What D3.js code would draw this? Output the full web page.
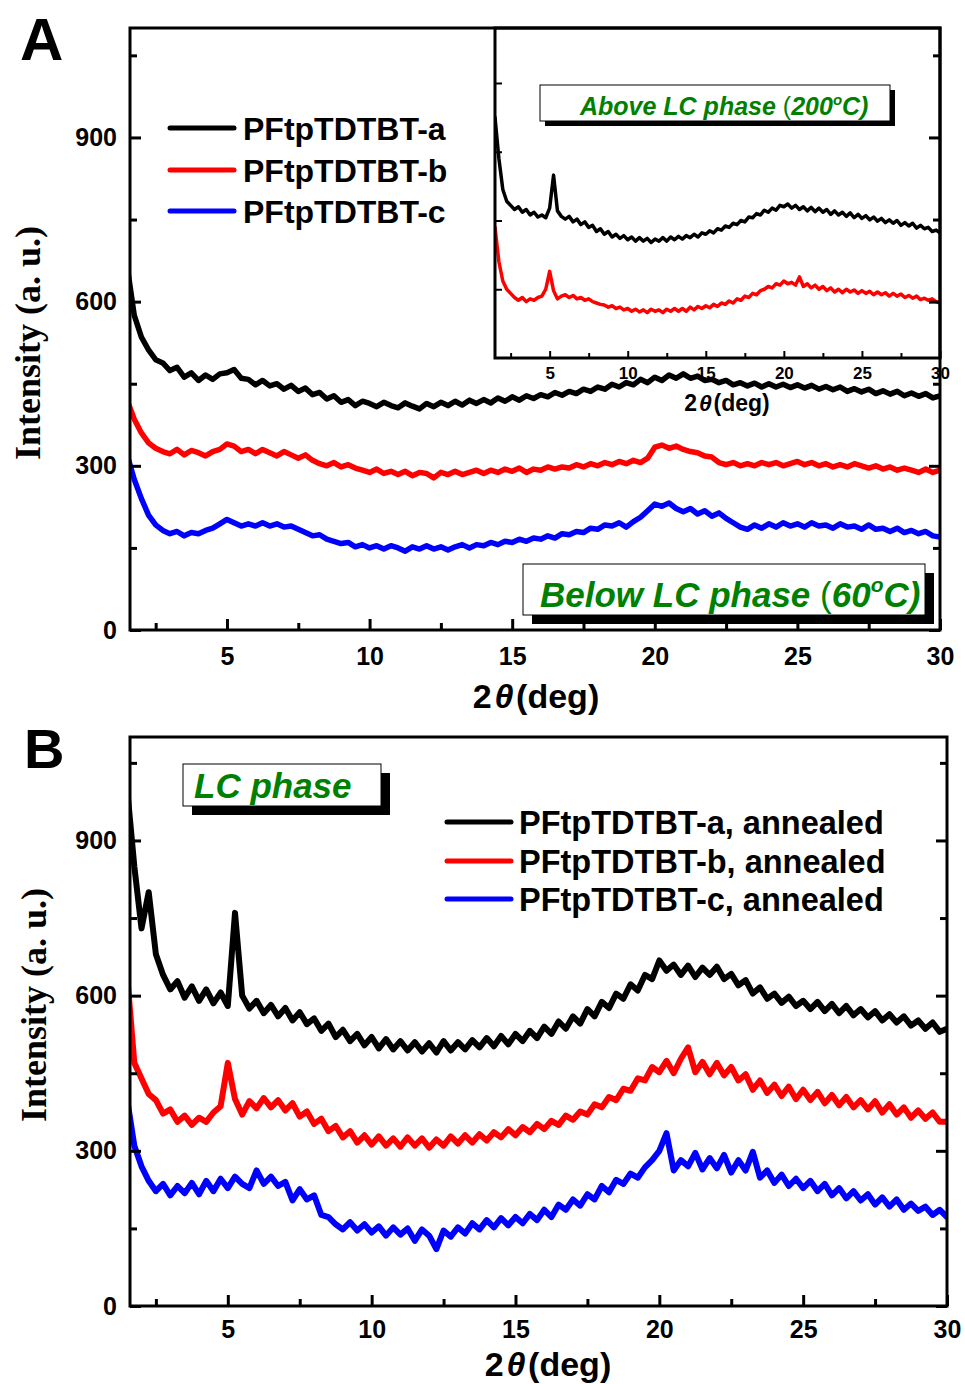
<!DOCTYPE html>
<html><head><meta charset="utf-8">
<script src="https://cdn.jsdelivr.net/npm/d3@7"></script>
<style>body{margin:0;background:#fff}svg{display:block}</style>
</head><body><svg id="c" width="965" height="1384"></svg>
<script>
// ---------- DATA ----------
const twoTheta = [1.5,1.75,2,2.25,2.5,2.75,3,3.25,3.5,3.75,4,4.25,4.5,4.75,5,5.25,5.5,5.75,6,6.25,6.5,6.75,7,7.25,7.5,7.75,8,8.25,8.5,8.75,9,9.25,9.5,9.75,10,10.25,10.5,10.75,11,11.25,11.5,11.75,12,12.25,12.5,12.75,13,13.25,13.5,13.75,14,14.25,14.5,14.75,15,15.25,15.5,15.75,16,16.25,16.5,16.75,17,17.25,17.5,17.75,18,18.25,18.5,18.75,19,19.25,19.5,19.75,20,20.25,20.5,20.75,21,21.25,21.5,21.75,22,22.25,22.5,22.75,23,23.25,23.5,23.75,24,24.25,24.5,24.75,25,25.25,25.5,25.75,26,26.25,26.5,26.75,27,27.25,27.5,27.75,28,28.25,28.5,28.75,29,29.25,29.5,29.75,30];

// Panel A (60 °C)
const A_a = [665,575,
535,512,494,488, 474,480,462,470, 456,466,458,468, 470,476,460,458, 448,456,446,450,
440,447,436,442, 430,434,422,428, 416,421,410,418, 414,408,416,410, 406,415,409,404,
414,408,416,410, 418,411,420,414, 421,415,424,418, 426,420,428,423, 430,426,434,429,
436,432,440,436, 444,440,449,444, 452,448,458,452, 462,456,466,460, 468,460,464,456,
458,452,456,448, 452,446,451,444, 450,444,449,443, 448,442,447,440, 445,439,444,436,
441,435,440,432, 437,431,436,428, 433,427,432,424,
428];
const A_b = [420,385,
360,342,332,326, 322,330,320,328, 324,318,326,330, 340,336,326,330, 322,330,324,318,
326,320,314,320, 310,304,300,306, 298,302,296,292, 288,294,286,290, 284,290,282,288,
286,278,288,284, 290,284,288,292, 286,292,288,294, 290,296,288,294, 292,298,294,298,
296,302,298,304, 300,306,302,308, 304,310,306,314, 334,338,332,336, 330,326,324,318,
316,306,302,306, 300,304,300,306, 302,306,300,304, 308,302,306,300, 304,298,302,298,
304,300,296,300, 294,298,292,296, 292,288,294,288,
292];
const A_c = [320,275,
240,210,192,182, 176,180,172,178, 176,182,186,194, 202,196,190,194, 190,196,190,194,
188,190,184,178, 172,174,166,162, 158,160,152,156, 150,154,148,154, 150,144,152,148,
154,148,152,146, 152,156,150,156, 154,160,156,162, 160,166,162,168, 166,172,168,176,
174,180,178,186, 184,192,190,196, 188,198,206,218, 230,226,232,222, 216,222,212,218,
208,214,204,196, 188,184,192,186, 194,188,196,190, 194,188,196,190, 192,186,194,188,
190,184,192,184, 186,180,186,178, 182,176,180,172,
170];

// Inset (200 °C)
const I_a = [350,290,
245,228,222,216, 220,212,216,208, 212,205,208,204, 218,266,214,206, 202,206,198,202,
194,198,190,193, 184,188,180,184, 176,180,174,178, 172,176,170,175, 170,174,168,173,
170,175,170,176, 172,177,173,178, 175,180,176,182, 180,185,182,188, 186,192,190,196,
194,200,198,205, 204,210,208,215, 212,218,215,222, 220,224,218,222, 216,220,214,219,
213,218,212,216, 209,214,208,212, 206,211,204,209, 203,207,201,205, 199,203,197,201,
196,200,193,197, 192,196,189,193, 188,190,184,186,
182];
const I_b = [190,140,
112,100,94,88, 84,88,82,86, 84,88,90,100, 126,98,86,90, 92,88,91,86,
88,84,86,82, 80,78,77,74, 76,72,74,70, 72,68,71,67, 70,66,71,68,
70,66,71,68, 72,68,72,68, 74,70,75,72, 76,73,78,75, 80,78,83,80,
86,84,90,88, 94,92,98,100, 104,102,108,106, 112,108,110,106, 118,104,108,102,
106,100,104,98, 102,96,100,95, 100,96,99,94, 98,94,97,92, 96,92,95,90,
94,90,93,88, 91,87,90,85, 87,84,86,82,
80];

// Panel B (annealed, LC phase)
const B_a = [1000,850,
730,800,680,640, 612,628,596,618, 590,612,585,606, 580,760,600,575, 590,566,582,560,
576,552,568,545, 556,532,546,520, 534,512,526,504, 520,498,516,496, 512,494,510,492,
508,490,512,494, 510,496,514,500, 518,502,522,506, 526,512,532,518, 540,526,550,536,
560,546,574,560, 588,576,604,594, 622,610,640,632, 668,648,660,640, 658,636,654,640,
656,632,642,620, 630,604,616,594, 604,586,598,580, 590,574,588,570, 584,566,580,562,
574,558,570,552, 564,548,560,542, 552,536,548,530,
536];
const B_b = [640,470,
440,410,398,372, 380,356,368,350, 364,356,374,386, 470,400,370,396, 382,402,384,398,
378,392,366,376, 352,362,338,348, 326,338,316,330, 312,328,310,324, 308,326,310,324,
306,322,310,328, 314,330,316,332, 320,336,326,342, 330,346,336,352, 342,358,350,368,
360,376,370,390, 384,404,398,420, 416,440,436,462, 452,474,450,478, 500,452,472,448,
470,446,462,436, 448,418,436,412, 428,406,424,400, 418,398,414,392, 408,388,404,384,
398,380,396,374, 390,370,384,364, 378,362,374,356,
356];
const B_c = [400,310,
270,242,222,236, 214,232,218,238, 216,242,222,246, 228,250,236,228, 262,236,250,232,
240,204,226,206, 214,176,172,158, 148,162,146,158, 142,154,136,152, 138,150,126,148,
136,110,146,134, 152,140,160,148, 166,152,170,156, 172,160,178,166, 186,172,196,186,
206,194,216,206, 232,220,244,236, 256,248,268,282, 300,334,262,282, 270,296,264,286,
266,292,258,282, 262,298,248,262, 238,254,232,246, 228,242,222,236, 214,228,208,222,
204,216,196,210, 192,206,186,198, 184,192,176,186,
172];

const xMajor = [5,10,15,20,25,30];
const xMinor = [2.5,7.5,12.5,17.5,22.5,27.5];
const yMajor = [0,300,600,900];
const yMinor = [150,450,750,1050];
const insetYTicks = [100,200,300,400];

const legendA = ["PFtpTDTBT-a","PFtpTDTBT-b","PFtpTDTBT-c"];
const legendB = ["PFtpTDTBT-a, annealed","PFtpTDTBT-b, annealed","PFtpTDTBT-c, annealed"];
const colors = ["#000000","#ff0000","#0000ff"];

// ---------- DRAW ----------
const SANS = "'Liberation Sans', Arial, sans-serif";
const SERIF = "'Liberation Serif', 'Times New Roman', serif";
const svg = d3.select("#c");
const defs = svg.append("defs");

function pts(ys){ return twoTheta.map((x,i)=>[x, ys[i]]).filter(d=>d[1]!=null); }

function clip(id, x0, y0, x1, y1){
  defs.append("clipPath").attr("id", id).append("rect")
    .attr("x", x0).attr("y", y0).attr("width", x1-x0).attr("height", y1-y0);
}

function axesFor(g, x, y, o){
  const [xl, xr] = x.range(); const [yb, yt] = y.range();
  const bm = g.append("g").attr("transform", `translate(0,${yb})`)
    .call(d3.axisBottom(x).tickValues(o.xMajor).tickSizeInner(-o.maj).tickSizeOuter(0)
      .tickPadding(o.xPad).tickFormat(o.xLabels ? d3.format("d") : ""));
  const bn = g.append("g").attr("transform", `translate(0,${yb})`)
    .call(d3.axisBottom(x).tickValues(o.xMinor).tickSizeInner(-o.min).tickSizeOuter(0).tickFormat(""));
  const parts = [bm, bn];
  if (o.yMajor){
    const lm = g.append("g").attr("transform", `translate(${xl},0)`)
      .call(d3.axisLeft(y).tickValues(o.yMajor).tickSizeInner(-o.maj).tickSizeOuter(0)
        .tickPadding(o.yPad).tickFormat(o.yLabels ? d3.format("d") : ""));
    parts.push(lm);
  }
  if (o.yMinor){
    const ln = g.append("g").attr("transform", `translate(${xl},0)`)
      .call(d3.axisLeft(y).tickValues(o.yMinor).tickSizeInner(-o.min).tickSizeOuter(0).tickFormat(""));
    parts.push(ln);
  }
  if (o.right){
    const rm = g.append("g").attr("transform", `translate(${xr},0)`)
      .call(d3.axisRight(y).tickValues(o.yMajor).tickSizeInner(-o.maj).tickSizeOuter(0).tickFormat(""));
    const rn = g.append("g").attr("transform", `translate(${xr},0)`)
      .call(d3.axisRight(y).tickValues(o.yMinor).tickSizeInner(-o.min).tickSizeOuter(0).tickFormat(""));
    parts.push(rm, rn);
  }
  parts.forEach(p=>{
    p.select(".domain").remove();
    p.selectAll(".tick line").attr("stroke","#000").attr("stroke-width", o.tw);
    p.selectAll(".tick text").attr("fill","#000").attr("font-family",SANS)
      .attr("font-weight","bold").attr("font-size", o.fs);
  });
  g.append("rect").attr("x", xl).attr("y", yt).attr("width", xr-xl).attr("height", yb-yt)
    .attr("fill","none").attr("stroke","#000").attr("stroke-width", o.fw);
}

function drawLines(g, x, y, series, clipId, sw){
  const line = d3.line().x(d=>x(d[0])).y(d=>y(d[1]));
  const lg = g.append("g").attr("clip-path", `url(#${clipId})`);
  series.forEach((s,i)=>{
    lg.append("path").datum(pts(s)).attr("d", line).attr("fill","none")
      .attr("stroke", colors[i]).attr("stroke-width", sw)
      .attr("stroke-linejoin","round").attr("stroke-linecap","round");
  });
}

function textBox(g, bx, by, bw, bh, off, tx, ty, fs, main, sup){
  g.append("rect").attr("x", bx+off).attr("y", by+off).attr("width", bw).attr("height", bh).attr("fill","#000");
  g.append("rect").attr("x", bx).attr("y", by).attr("width", bw).attr("height", bh)
    .attr("fill","#fff").attr("stroke","#000").attr("stroke-width",1);
  const t = g.append("text").attr("x", tx).attr("y", ty).attr("fill","#008000")
    .attr("font-family",SANS).attr("font-weight","bold").attr("font-style","italic").attr("font-size", fs);
  t.append("tspan").text(main);
  if (sup != null){
    t.append("tspan").attr("font-weight","normal").attr("font-style","normal").text("(");
    t.append("tspan").text(sup);
    t.append("tspan").attr("font-size", fs*0.6).attr("dy", -fs*0.42).text("o");
    t.append("tspan").attr("dy", fs*0.42).text("C)");
  }
}

function xTitle(g, cx, by, fs){
  const t = g.append("text").attr("x", cx).attr("y", by).attr("text-anchor","middle")
    .attr("font-family",SANS).attr("font-weight","bold").attr("font-size", fs).attr("fill","#000");
  t.append("tspan").text("2");
  t.append("tspan").attr("font-style","italic").attr("dx", fs*0.08).text("θ");
  t.append("tspan").attr("dx", fs*0.08).text("(deg)");
}

function yTitle(g, cx, cy, fs){
  g.append("text").attr("transform", `translate(${cx},${cy}) rotate(-90)`)
    .attr("text-anchor","middle").attr("dy","0.35em")
    .attr("font-family",SERIF).attr("font-weight","bold").attr("font-size", fs).attr("fill","#000")
    .text("Intensity (a. u.)");
}

function legend(g, x0, x1, tx, ys, labels, fs){
  labels.forEach((lab,i)=>{
    g.append("line").attr("x1",x0).attr("x2",x1).attr("y1",ys[i]).attr("y2",ys[i])
      .attr("stroke",colors[i]).attr("stroke-width",5).attr("stroke-linecap","round");
    g.append("text").attr("x",tx).attr("y",ys[i]).attr("dy","0.36em")
      .attr("font-family",SANS).attr("font-weight","bold").attr("font-size",fs).attr("fill","#000").text(lab);
  });
}

// ===== Panel A =====
const gA = svg.append("g");
const xA = d3.scaleLinear().domain([1.6,30]).range([130,940]);
const yA = d3.scaleLinear().domain([0,1100]).range([630,28]);
clip("clipA", 130, 28, 940, 630);
drawLines(gA, xA, yA, [A_a, A_b, A_c], "clipA", 5.5);

// inset
const xI = d3.scaleLinear().domain([1.5,30]).range([495,940]);
const yI = d3.scaleLinear().domain([0,480]).range([358,28]);
gA.append("rect").attr("x",495).attr("y",28).attr("width",445).attr("height",330).attr("fill","#fff");
clip("clipI", 495, 28, 940, 358);
drawLines(gA, xI, yI, [I_a, I_b], "clipI", 3.5);
axesFor(gA, xI, yI, {xMajor, xMinor, yMajor: insetYTicks, yMinor: null, right:false,
  maj:7, min:5, tw:2, fw:3, xPad:9, yPad:4, xLabels:true, yLabels:false, fs:17});
xTitle(gA, 727, 411, 23);
textBox(gA, 540, 85, 350, 36, 5, 580, 115, 25, "Above LC phase ", "200");

axesFor(gA, xA, yA, {xMajor, xMinor, yMajor, yMinor, right:true,
  maj:11, min:7, tw:3, fw:3, xPad:17, yPad:13, xLabels:true, yLabels:true, fs:25});
textBox(gA, 523, 564, 402, 51, 9, 540, 607, 35, "Below LC phase ", "60");
legend(gA, 170, 234, 243, [128,170,211], legendA, 32);
xTitle(gA, 536, 708, 34);
yTitle(gA, 27, 343, 36);
gA.append("text").attr("x",20).attr("y",60).attr("font-family",SANS).attr("font-weight","bold")
  .attr("font-size",60).text("A");

// ===== Panel B =====
const gB = svg.append("g");
const xB = d3.scaleLinear().domain([1.6,30]).range([130,947]);
const yB = d3.scaleLinear().domain([0,1100]).range([1306,737]);
clip("clipB", 130, 737, 947, 1306);
drawLines(gB, xB, yB, [B_a, B_b, B_c], "clipB", 6);
axesFor(gB, xB, yB, {xMajor, xMinor, yMajor, yMinor, right:true,
  maj:11, min:7, tw:3, fw:3, xPad:14, yPad:13, xLabels:true, yLabels:true, fs:25});
textBox(gB, 183, 764, 198, 42, 9, 194, 798, 35, "LC phase", null);
legend(gB, 447, 511, 519, [822,861,899], legendB, 32.5);
xTitle(gB, 548, 1376, 34);
yTitle(gB, 33, 1005, 36);
gB.append("text").attr("x",24).attr("y",768).attr("font-family",SANS).attr("font-weight","bold")
  .attr("font-size",56).text("B");
</script>
</body></html>
